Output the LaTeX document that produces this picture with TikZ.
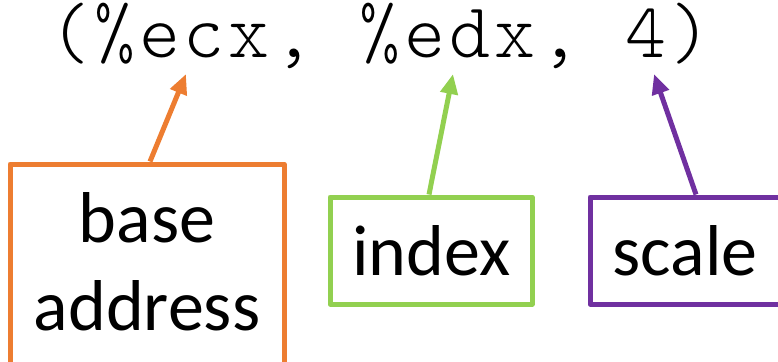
\documentclass[tikz,border=0pt]{standalone}
\usepackage{fontspec}
\setmainfont{Carlito}
\newfontfamily\codefont{lmmonolt10-regular.otf}[LetterSpace=5.1]
\usetikzlibrary{arrows.meta,calc}

\definecolor{baseorange}{HTML}{ED7D31}
\definecolor{indexgreen}{HTML}{92D050}
\definecolor{scalepurple}{HTML}{7030A0}

\tikzset{
  codetext/.style={inner sep=0pt, text height=46pt, text depth=10pt,
    font=\codefont\fontsize{78}{84}\selectfont},
  labeltext/.style={inner sep=0pt, align=center, font=\fontsize{72}{88}\selectfont},
  partbox/.style={draw=#1, line width=5pt, line join=round, inner sep=0pt},
  pointer/.style={draw=#1, line width=5pt, -{Triangle[length=20pt,width=17pt]}}
}

\begin{document}
\begin{tikzpicture}[x=1pt,y=-1pt]
  \useasboundingbox (0,0) rectangle (778,361);
  \clip (0,0) rectangle (778,361);

  % operand expression
  \node[codetext, anchor=base west] (code) at (49,58) {(\%ecx, \%edx, 4)};

  % arrow targets under the operands
  \coordinate (tipBase)  at (186,74);
  \coordinate (tipIndex) at (453,74);
  \coordinate (tipScale) at (654,74);

  % boxes
  \node[partbox=baseorange, minimum width=274pt, minimum height=208pt] (baseBox) at (147,268) {};
  \node[partbox=indexgreen, minimum width=202pt, minimum height=107pt] (indexBox) at (431,250.5) {};
  \node[partbox=scalepurple, minimum width=214pt, minimum height=107pt] (scaleBox) at (697,250.5) {};

  % labels (base anchor of a two-line node sits on its last line)
  \node[labeltext, anchor=base] (baseLbl)  at (147,330)   {base\\address};
  \node[labeltext, anchor=base] (indexLbl) at (431.5,275) {index};
  \node[labeltext, anchor=base] (scaleLbl) at (685,275)   {scale};

  % pointers
  \draw[pointer=baseorange]  ($(baseBox.north)+(3,0)$)   -- (tipBase);
  \draw[pointer=indexgreen]  ($(indexBox.north)+(-2,0)$) -- (tipIndex);
  \draw[pointer=scalepurple] ($(scaleBox.north)+(-1,0)$) -- (tipScale);
\end{tikzpicture}
\end{document}
